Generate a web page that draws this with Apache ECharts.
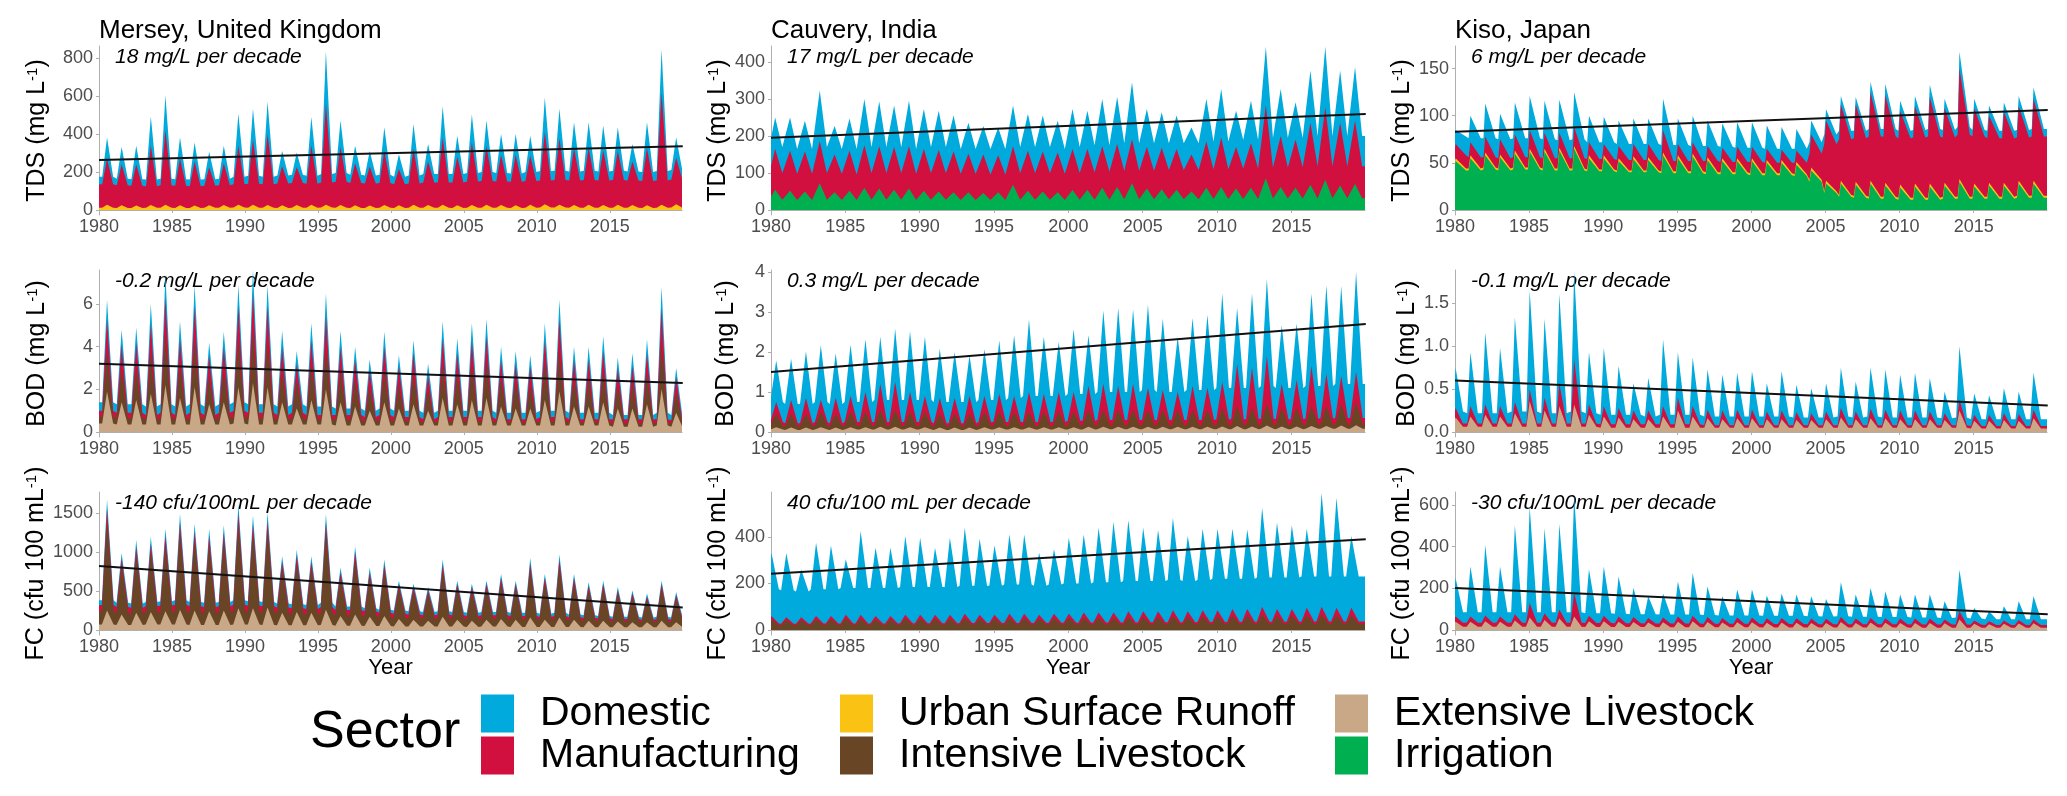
<!DOCTYPE html>
<html>
<head>
<meta charset="utf-8">
<title>Sector contributions to river water quality</title>
<script src="https://cdn.jsdelivr.net/npm/echarts@6.0.0/dist/echarts.min.js"></script>
<style>
  html, body { margin: 0; padding: 0; background: #fff; }
  #chart { width: 2067px; height: 796px; }
</style>
</head>
<body>
<div id="chart"></div>
<script>
// years of the monthly record (one seasonal peak + trough read per year)
const years = [1980, 1981, 1982, 1983, 1984, 1985, 1986, 1987, 1988, 1989,
  1990, 1991, 1992, 1993, 1994, 1995, 1996, 1997, 1998, 1999,
  2000, 2001, 2002, 2003, 2004, 2005, 2006, 2007, 2008, 2009,
  2010, 2011, 2012, 2013, 2014, 2015, 2016, 2017, 2018, 2019];
const xTicks = [1980, 1985, 1990, 1995, 2000, 2005, 2010, 2015];
const rivers = ['Mersey, United Kingdom', 'Cauvery, India', 'Kiso, Japan'];

// values are the upper edge of each stacked sector band (Lo = seasonal trough, Pk = annual peak)

// Mersey TDS
const merseyTdsTicks = [0, 200, 400, 600, 800];
const merseyTdsTrend = [263, 336];
const merseyTdsDomPk = [382,332,338,492,604,382,355,306,338,507, 533,569,311,302,489,836,471,338,311,436, 293,453,347,546,391,503,471,400,400,391, 592,533,462,462,444,436,347,462,845,382];
const merseyTdsDomLo = [175,165,162,160,165,162,160,162,165,175, 180,175,182,186,180,190,195,186,182,186, 175,182,190,190,190,195,200,195,192,200, 205,207,202,207,202,207,202,200,205,210];
const merseyTdsManPk = [270,240,240,340,420,270,255,225,245,340, 370,400,230,225,340,560,330,245,228,310, 215,320,255,380,280,355,335,290,290,285, 410,375,325,325,315,310,255,325,620,275];
const merseyTdsManLo = [135,130,128,125,130,128,125,128,130,135, 138,135,140,142,138,145,148,142,140,142, 135,140,145,145,145,150,152,150,148,152, 155,158,155,158,155,158,155,152,155,160];
const merseyTdsUrbPk = [28,25,24,26,27,25,24,25,26,28, 27,26,25,26,27,28,26,25,24,26, 25,27,26,27,25,26,27,26,25,27, 30,28,26,27,26,27,26,25,28,30];
const merseyTdsUrbLo = [12,11,11,12,12,11,11,12,12,13, 12,12,11,12,12,13,12,11,11,12, 11,12,12,12,11,12,12,12,11,12, 13,13,12,12,12,12,12,11,12,13];

// Mersey BOD
const merseyBodTicks = [0, 2, 4, 6];
const merseyBodTrend = [3.2, 2.3];
const merseyBodDomPk = [6.2,4.8,4.9,6.0,7.4,5.2,6.9,4.2,4.7,6.9, 7.6,6.9,4.75,3.8,5.1,6.5,4.75,4.0,3.4,4.7, 3.6,4.3,3.2,5.2,4.4,5.1,5.3,4.0,3.8,3.6, 5.1,6.2,4.0,4.0,4.5,3.5,3.7,4.35,6.8,3.0];
const merseyBodDomLo = [1.4,1.3,1.3,1.2,1.3,1.2,1.3,1.2,1.3,1.4, 1.3,1.3,1.2,1.3,1.2,1.2,1.1,1.1,1.0,1.1, 1.0,1.0,0.9,1.0,1.0,1.0,1.0,0.9,0.9,0.9, 1.0,1.0,0.9,0.9,0.9,0.8,0.8,0.8,0.9,0.8];
const merseyBodManPk = [5.3,4.1,4.2,5.1,6.3,4.4,5.9,3.6,4.0,5.9, 6.5,5.9,4.0,3.2,4.3,5.5,4.0,3.4,2.9,4.0, 3.1,3.7,2.7,4.4,3.7,4.3,4.5,3.4,3.2,3.1, 4.3,5.3,3.4,3.4,3.8,3.0,3.1,3.7,5.8,2.6];
const merseyBodManLo = [1.0,0.9,0.9,0.8,0.9,0.8,0.9,0.8,0.9,1.0, 0.9,0.9,0.8,0.9,0.8,0.8,0.8,0.8,0.7,0.8, 0.7,0.7,0.6,0.7,0.7,0.7,0.7,0.6,0.6,0.6, 0.7,0.7,0.6,0.6,0.6,0.6,0.6,0.6,0.6,0.55];
const merseyBodIntPk = [3.8,3.0,3.0,3.7,4.6,3.2,4.3,2.6,2.9,4.3, 4.7,4.3,2.9,2.4,3.2,4.0,2.9,2.5,2.1,2.9, 2.2,2.7,2.0,3.2,2.7,3.2,3.3,2.5,2.4,2.2, 3.2,3.8,2.5,2.5,2.8,2.2,2.3,2.7,4.2,1.9];
const merseyBodIntLo = [0.7,0.65,0.65,0.6,0.65,0.6,0.65,0.6,0.65,0.7, 0.65,0.65,0.6,0.65,0.6,0.6,0.6,0.55,0.5,0.55, 0.5,0.5,0.45,0.5,0.5,0.5,0.5,0.45,0.45,0.45, 0.5,0.5,0.45,0.45,0.45,0.4,0.4,0.4,0.45,0.4];
const merseyBodExtPk = [1.9,1.4,1.5,1.8,2.2,1.6,2.1,1.3,1.4,2.1, 2.3,2.1,1.4,1.1,1.5,2.0,1.4,1.2,1.0,1.4, 1.1,1.3,1.0,1.6,1.3,1.5,1.6,1.2,1.1,1.1, 1.5,1.9,1.2,1.2,1.4,1.1,1.1,1.3,2.0,0.9];
const merseyBodExtLo = [0.4,0.35,0.35,0.35,0.35,0.35,0.35,0.35,0.35,0.4, 0.35,0.35,0.35,0.35,0.35,0.35,0.3,0.3,0.3,0.3, 0.3,0.3,0.3,0.3,0.3,0.3,0.3,0.3,0.3,0.3, 0.3,0.3,0.3,0.3,0.3,0.25,0.25,0.25,0.3,0.25];

// Mersey FC
const merseyFcTicks = [0, 500, 1000, 1500];
const merseyFcTrend = [820, 290];
const merseyFcDomPk = [1675,988,1154,1196,1300,1488,1363,1300,1342,1613, 1467,1508,946,1029,946,1488,800,1071,800,904, 633,592,550,904,633,592,633,717,633,925, 717,967,717,613,633,550,508,467,633,488];
const merseyFcDomLo = [380,350,340,360,370,380,360,350,360,380, 370,360,340,330,320,350,300,300,280,260, 250,240,230,240,230,220,230,230,220,220, 210,220,200,190,180,170,170,160,170,160];
const merseyFcManPk = [1560,920,1070,1110,1210,1380,1270,1210,1250,1500, 1360,1400,880,960,880,1380,740,1000,740,840, 590,550,510,840,590,550,590,670,590,860, 670,900,670,570,590,510,470,430,590,450];
const merseyFcManLo = [320,295,285,305,315,325,305,295,305,325, 315,305,290,280,270,295,255,255,240,220, 210,200,190,200,190,180,190,190,180,180, 170,180,165,155,150,140,140,130,140,130];
const merseyFcIntPk = [1420,840,980,1020,1100,1260,1160,1100,1140,1370, 1250,1280,800,870,800,1260,680,910,680,770, 540,500,470,770,540,500,540,610,540,790, 610,820,610,520,540,470,430,400,540,410];
const merseyFcIntLo = [240,220,215,230,235,245,230,220,230,245, 235,230,215,210,200,225,190,190,175,165, 155,150,145,150,145,140,145,145,140,140, 135,140,125,120,115,110,110,105,110,105];
const merseyFcExtPk = [250,200,220,230,240,260,250,240,250,280, 280,290,220,230,220,260,180,200,170,180, 140,130,120,170,130,120,130,140,130,160, 130,160,130,120,120,110,100,100,120,100];
const merseyFcExtLo = [70,65,65,70,70,70,65,65,65,70, 70,65,60,60,60,65,55,55,50,50, 45,45,45,45,45,40,45,45,40,40, 40,40,40,35,35,35,35,35,35,35];

// Cauvery TDS
const cauveryTdsTicks = [0, 100, 200, 300, 400];
const cauveryTdsTrend = [195, 259];
const cauveryTdsDomPk = [250,250,241,323,227,247,300,293,282,295, 273,268,255,236,227,223,282,259,255,241, 273,268,300,305,345,273,264,255,223,300, 327,268,295,441,327,291,377,441,377,386];
const cauveryTdsDomLo = [170,165,165,170,165,165,170,170,170,165, 170,170,165,165,165,165,170,170,170,165, 170,175,175,180,180,180,180,180,180,185, 185,190,190,195,195,195,200,200,200,200];
const cauveryTdsManPk = [165,160,158,186,150,160,175,172,170,172, 165,162,158,152,150,148,172,160,158,155, 165,165,172,178,191,170,168,165,150,185, 195,170,180,282,200,190,235,277,236,241];
const cauveryTdsManLo = [100,98,98,100,98,96,100,100,100,98, 100,100,98,98,96,96,100,100,100,98, 100,102,104,106,106,106,108,108,108,110, 110,112,112,115,115,116,118,118,118,118];
const cauveryTdsIrrPk = [55,52,50,72,48,52,60,58,55,58, 52,50,48,48,46,48,68,52,50,48, 54,55,60,62,72,58,56,55,50,60, 62,58,60,86,62,60,68,82,66,70];
const cauveryTdsIrrLo = [28,27,27,28,27,27,28,28,28,27, 28,28,27,27,27,27,28,28,28,27, 28,28,28,29,29,29,29,29,29,30, 30,30,30,31,31,31,31,32,32,32];

// Cauvery BOD
const cauveryBodTicks = [0, 1, 2, 3, 4];
const cauveryBodTrend = [1.5, 2.7];
const cauveryBodDomPk = [1.79,1.83,2.02,2.17,1.96,2.18,2.32,2.38,2.58,2.52, 2.38,2.08,2.0,1.92,2.07,2.29,2.42,2.81,2.38,2.25, 2.57,2.42,3.04,3.1,3.07,3.18,2.83,2.38,2.85,2.93, 3.46,3.1,3.46,3.83,2.67,2.71,3.46,3.67,3.65,4.0];
const cauveryBodDomLo = [0.75,0.7,0.7,0.75,0.7,0.75,0.75,0.8,0.8,0.8, 0.8,0.75,0.75,0.75,0.8,0.8,0.85,0.9,0.9,0.9, 0.95,0.95,1.0,1.0,1.0,1.05,1.0,1.0,1.05,1.05, 1.1,1.1,1.1,1.15,1.1,1.1,1.15,1.15,1.2,1.2];
const cauveryBodManPk = [0.75,0.8,0.85,0.8,0.85,0.9,1.0,1.2,1.25,1.0, 0.9,0.85,0.85,0.9,0.9,0.95,0.9,1.0,0.95,1.0, 1.0,1.15,1.2,1.15,1.2,1.1,1.05,1.0,1.15,1.1, 1.25,1.7,1.6,1.9,1.2,1.3,1.65,1.45,1.4,1.5];
const cauveryBodManLo = [0.25,0.22,0.22,0.25,0.22,0.25,0.25,0.25,0.25,0.25, 0.25,0.22,0.22,0.22,0.25,0.25,0.25,0.25,0.25,0.25, 0.28,0.28,0.3,0.3,0.3,0.3,0.3,0.3,0.3,0.3, 0.32,0.32,0.32,0.34,0.32,0.32,0.34,0.34,0.35,0.35];
const cauveryBodIntPk = [0.45,0.45,0.45,0.5,0.45,0.5,0.5,0.55,0.55,0.5, 0.5,0.45,0.45,0.45,0.5,0.5,0.5,0.5,0.5,0.5, 0.5,0.55,0.55,0.55,0.55,0.55,0.55,0.55,0.55,0.55, 0.6,0.65,0.6,0.7,0.6,0.6,0.65,0.65,0.7,0.75];
const cauveryBodIntLo = [0.15,0.14,0.14,0.15,0.14,0.15,0.15,0.15,0.15,0.15, 0.15,0.14,0.14,0.14,0.15,0.15,0.15,0.15,0.15,0.15, 0.16,0.16,0.16,0.16,0.16,0.16,0.16,0.16,0.16,0.16, 0.17,0.17,0.17,0.18,0.17,0.17,0.18,0.18,0.18,0.18];
const cauveryBodExtPk = [0.12,0.11,0.11,0.12,0.11,0.12,0.12,0.13,0.13,0.12, 0.12,0.11,0.11,0.11,0.12,0.12,0.12,0.12,0.12,0.12, 0.12,0.13,0.13,0.13,0.13,0.13,0.13,0.13,0.13,0.13, 0.14,0.15,0.14,0.16,0.14,0.14,0.15,0.15,0.16,0.17];
const cauveryBodExtLo = [0.06,0.05,0.05,0.06,0.05,0.06,0.06,0.06,0.06,0.06, 0.06,0.05,0.05,0.05,0.06,0.06,0.06,0.06,0.06,0.06, 0.06,0.06,0.07,0.07,0.07,0.07,0.07,0.07,0.07,0.07, 0.07,0.07,0.07,0.08,0.07,0.07,0.08,0.08,0.08,0.08];

// Cauvery FC
const cauveryFcTicks = [0, 200, 400];
const cauveryFcTrend = [241, 389];
const cauveryFcDomPk = [331,329,260,374,363,303,424,353,353,403, 396,353,396,439,391,363,410,410,331,346, 396,410,439,463,471,439,429,481,403,434, 434,434,431,524,460,449,434,588,567,403];
const cauveryFcDomLo = [175,170,165,175,175,180,180,180,180,185, 185,185,185,190,190,190,195,195,190,195, 200,200,205,205,210,210,210,215,210,215, 220,220,220,225,225,225,230,230,230,230];
const cauveryFcManPk = [60,55,55,60,60,65,65,60,60,65, 65,65,65,70,65,65,70,70,65,70, 70,75,75,75,80,80,80,85,80,85, 85,90,90,100,90,90,95,100,95,95];
const cauveryFcManLo = [28,27,27,28,28,28,28,28,28,29, 29,29,29,30,30,30,30,30,30,31, 31,31,32,32,32,33,33,33,33,34, 34,34,35,35,35,35,36,36,36,36];
const cauveryFcIntPk = [45,42,42,45,45,48,48,45,45,48, 48,48,48,50,48,48,50,50,48,50, 50,52,52,52,55,55,55,58,55,58, 58,60,60,65,60,60,62,65,62,62];
const cauveryFcIntLo = [20,19,19,20,20,20,20,20,20,21, 21,21,21,22,22,22,22,22,22,22, 23,23,23,23,23,24,24,24,24,24, 25,25,25,25,25,25,26,26,26,26];

// Kiso TDS
const kisoTdsTicks = [0, 50, 100, 150];
const kisoTdsTrend = [83, 106];
const kisoTdsDomPk = [85,100,113,102,114,121,116,117,125,100, 99,95,97,97,118,97,100,95,92,93, 93,90,88,86,95,107,121,120,136,134, 116,121,133,118,168,118,111,114,121,130];
const kisoTdsDomLo = [78,76,76,75,76,76,75,74,75,72, 72,70,70,70,69,69,68,68,67,66, 66,65,65,65,72,80,84,84,86,86, 84,85,86,85,88,85,84,84,85,86];
const kisoTdsManPk = [70,72,78,75,80,85,82,82,88,72, 70,68,70,70,85,70,72,68,66,67, 67,65,64,63,80,95,112,112,125,122, 105,110,120,108,150,108,100,104,110,118];
const kisoTdsManLo = [58,56,56,55,56,56,55,55,55,54, 54,53,53,53,52,52,52,52,51,51, 51,50,50,50,60,70,75,76,78,78, 76,77,78,77,80,78,76,76,77,78];
const kisoTdsUrbPk = [55,58,61,59,63,65,65,66,68,58, 58,55,57,56,61,58,60,56,55,55, 55,53,53,51,45,31,31,30,31,29, 27,28,28,29,33,28,29,29,31,31];
const kisoTdsUrbLo = [44,44,45,44,45,45,44,44,44,43, 43,42,42,42,41,41,41,40,40,40, 39,39,39,38,32,20,16,15,14,14, 13,13,13,14,14,14,14,14,15,15];
const kisoTdsIrrPk = [52,55,58,56,60,62,62,63,65,55, 55,52,54,53,58,55,57,53,52,52, 52,50,50,48,42,28,28,27,28,26, 24,25,25,26,30,25,26,26,28,28];
const kisoTdsIrrLo = [42,42,43,42,43,43,42,42,42,41, 41,40,40,40,39,39,39,38,38,38, 37,37,37,36,30,18,14,13,12,12, 11,11,11,12,12,12,12,12,13,13];

// Kiso BOD
const kisoBodTicks = [0, 0.5, 1, 1.5];
const kisoBodTrend = [0.60, 0.31];
const kisoBodDomPk = [0.75,0.93,1.16,0.98,1.34,1.65,1.32,1.61,1.87,0.93, 0.98,0.77,0.57,0.63,1.08,0.93,0.87,0.73,0.67,0.69, 0.71,0.57,0.71,0.55,0.51,0.57,0.75,0.59,0.75,0.73, 0.67,0.69,0.63,0.47,1.0,0.45,0.43,0.51,0.47,0.69];
const kisoBodDomLo = [0.24,0.22,0.22,0.22,0.24,0.24,0.22,0.22,0.24,0.22, 0.2,0.2,0.2,0.18,0.2,0.2,0.2,0.18,0.18,0.18, 0.18,0.18,0.18,0.17,0.17,0.17,0.18,0.17,0.18,0.17, 0.17,0.17,0.17,0.16,0.17,0.15,0.15,0.15,0.15,0.15];
const kisoBodManPk = [0.28,0.3,0.32,0.3,0.35,0.5,0.4,0.57,0.85,0.32, 0.3,0.28,0.25,0.25,0.3,0.4,0.3,0.26,0.25,0.26, 0.26,0.24,0.25,0.23,0.22,0.24,0.28,0.24,0.27,0.26, 0.25,0.25,0.24,0.22,0.38,0.2,0.2,0.22,0.21,0.26];
const kisoBodManLo = [0.1,0.1,0.1,0.1,0.1,0.1,0.1,0.1,0.1,0.1, 0.09,0.09,0.09,0.09,0.09,0.09,0.09,0.08,0.08,0.08, 0.08,0.08,0.08,0.08,0.08,0.08,0.08,0.08,0.08,0.08, 0.08,0.08,0.08,0.08,0.08,0.07,0.07,0.07,0.07,0.07];
const kisoBodExtPk = [0.17,0.18,0.2,0.18,0.22,0.36,0.25,0.3,0.32,0.2, 0.18,0.17,0.15,0.15,0.18,0.25,0.18,0.16,0.15,0.16, 0.16,0.15,0.15,0.14,0.14,0.15,0.17,0.15,0.16,0.16, 0.15,0.15,0.15,0.14,0.25,0.13,0.13,0.14,0.13,0.16];
const kisoBodExtLo = [0.06,0.06,0.06,0.06,0.06,0.06,0.06,0.06,0.06,0.06, 0.05,0.05,0.05,0.05,0.05,0.05,0.05,0.05,0.05,0.05, 0.05,0.05,0.05,0.05,0.05,0.05,0.05,0.05,0.05,0.05, 0.05,0.05,0.05,0.05,0.05,0.04,0.04,0.04,0.04,0.04];

// Kiso FC
const kisoFcTicks = [0, 200, 400, 600];
const kisoFcTrend = [202, 75];
const kisoFcDomPk = [249,305,408,305,503,590,487,508,646,292, 305,257,202,162,175,233,273,209,162,194, 194,165,175,170,162,149,229,170,202,186, 170,170,170,138,289,106,90,114,138,162];
const kisoFcDomLo = [85,85,85,85,85,85,85,85,85,80, 80,78,76,75,74,74,74,72,70,70, 70,68,68,68,66,65,66,64,64,62, 62,60,60,58,60,55,52,52,52,52];
const kisoFcManPk = [65,65,70,65,75,130,80,98,178,68, 68,65,62,58,60,65,68,62,58,60, 60,56,58,56,55,54,62,55,58,56, 55,55,55,50,90,45,42,45,48,50];
const kisoFcManLo = [35,35,35,35,35,35,35,35,35,33, 33,32,32,31,31,31,31,30,30,30, 30,29,29,29,28,28,28,27,27,27, 27,26,26,26,26,25,24,24,24,24];
const kisoFcExtPk = [40,40,42,40,45,60,48,55,65,42, 42,40,38,36,37,40,42,38,36,37, 37,35,36,35,34,34,38,34,36,35, 34,34,34,32,50,30,28,30,31,32];
const kisoFcExtLo = [15,15,15,15,15,15,15,15,15,14, 14,14,14,14,13,13,13,13,13,13, 13,12,12,12,12,12,12,12,12,12, 12,11,11,11,11,11,11,11,11,11];

// ---- look & layout ----
const FONT = '"Liberation Sans", Arial, Helvetica, sans-serif';
const sectorColor = {
  'Domestic': '#00AADC',
  'Manufacturing': '#D21040',
  'Urban Surface Runoff': '#FAC314',
  'Intensive Livestock': '#684524',
  'Extensive Livestock': '#C8A886',
  'Irrigation': '#00B050'
};
const colLeft = [99, 771, 1455];
const colWidth = [583, 594, 592];
const rowTop = [46, 270, 492];
const rowZero = [210, 432, 630];
const pad = 5;              // gap between zero line and axis line
const nameGap = [49, 32, 32];
const tdsName = 'TDS (mg L{s|-1})';
const bodName = 'BOD (mg L{s|-1})';
const fcName = 'FC (cfu 100 mL{s|-1})';

// peakAt: where in the year the seasonal peak sits; rise/fall: hump width before/after it
const panels = [
  { col: 0, row: 0, max: 863, ticks: merseyTdsTicks, trend: merseyTdsTrend, yName: tdsName, note: '18 mg/L per decade',
    peakAt: 0.55, rise: 0.33, fall: 0.42,
    bands: [['Domestic', merseyTdsDomLo, merseyTdsDomPk], ['Manufacturing', merseyTdsManLo, merseyTdsManPk],
            ['Urban Surface Runoff', merseyTdsUrbLo, merseyTdsUrbPk]] },
  { col: 0, row: 1, max: 7.6, ticks: merseyBodTicks, trend: merseyBodTrend, yName: bodName, note: '-0.2 mg/L per decade',
    peakAt: 0.55, rise: 0.33, fall: 0.42,
    bands: [['Domestic', merseyBodDomLo, merseyBodDomPk], ['Manufacturing', merseyBodManLo, merseyBodManPk],
            ['Intensive Livestock', merseyBodIntLo, merseyBodIntPk], ['Extensive Livestock', merseyBodExtLo, merseyBodExtPk]] },
  { col: 0, row: 2, max: 1770, ticks: merseyFcTicks, trend: merseyFcTrend, yName: fcName, note: '-140 cfu/100mL per decade',
    peakAt: 0.55, rise: 0.35, fall: 0.45,
    bands: [['Domestic', merseyFcDomLo, merseyFcDomPk], ['Manufacturing', merseyFcManLo, merseyFcManPk],
            ['Intensive Livestock', merseyFcIntLo, merseyFcIntPk], ['Extensive Livestock', merseyFcExtLo, merseyFcExtPk]] },
  { col: 1, row: 0, max: 443, ticks: cauveryTdsTicks, trend: cauveryTdsTrend, yName: tdsName, note: '17 mg/L per decade',
    peakAt: 0.28, rise: 0.4, fall: 0.48,
    bands: [['Domestic', cauveryTdsDomLo, cauveryTdsDomPk], ['Manufacturing', cauveryTdsManLo, cauveryTdsManPk],
            ['Irrigation', cauveryTdsIrrLo, cauveryTdsIrrPk]] },
  { col: 1, row: 1, max: 4.05, ticks: cauveryBodTicks, trend: cauveryBodTrend, yName: bodName, note: '0.3 mg/L per decade',
    peakAt: 0.35, rise: 0.4, fall: 0.45,
    bands: [['Domestic', cauveryBodDomLo, cauveryBodDomPk], ['Manufacturing', cauveryBodManLo, cauveryBodManPk],
            ['Intensive Livestock', cauveryBodIntLo, cauveryBodIntPk], ['Extensive Livestock', cauveryBodExtLo, cauveryBodExtPk]] },
  { col: 1, row: 2, max: 592, ticks: cauveryFcTicks, trend: cauveryFcTrend, yName: fcName, note: '40 cfu/100 mL per decade',
    peakAt: 0.03, rise: 0.35, fall: 0.5,
    bands: [['Domestic', cauveryFcDomLo, cauveryFcDomPk], ['Manufacturing', cauveryFcManLo, cauveryFcManPk],
            ['Intensive Livestock', cauveryFcIntLo, cauveryFcIntPk]] },
  { col: 2, row: 0, max: 174, ticks: kisoTdsTicks, trend: kisoTdsTrend, yName: tdsName, note: '6 mg/L per decade',
    peakAt: 0.04, rise: 0.12, fall: 0.7,
    bands: [['Domestic', kisoTdsDomLo, kisoTdsDomPk], ['Manufacturing', kisoTdsManLo, kisoTdsManPk],
            ['Urban Surface Runoff', kisoTdsUrbLo, kisoTdsUrbPk], ['Irrigation', kisoTdsIrrLo, kisoTdsIrrPk]] },
  { col: 2, row: 1, max: 1.89, ticks: kisoBodTicks, trend: kisoBodTrend, yName: bodName, note: '-0.1 mg/L per decade',
    digits: 1, peakAt: 0.04, rise: 0.22, fall: 0.5,
    bands: [['Domestic', kisoBodDomLo, kisoBodDomPk], ['Manufacturing', kisoBodManLo, kisoBodManPk],
            ['Extensive Livestock', kisoBodExtLo, kisoBodExtPk]] },
  { col: 2, row: 2, max: 662, ticks: kisoFcTicks, trend: kisoFcTrend, yName: fcName, note: '-30 cfu/100mL per decade',
    peakAt: 0.04, rise: 0.25, fall: 0.5,
    bands: [['Domestic', kisoFcDomLo, kisoFcDomPk], ['Manufacturing', kisoFcManLo, kisoFcManPk],
            ['Extensive Livestock', kisoFcExtLo, kisoFcExtPk]] }
];

// one seasonal hump per year: trough -> peak -> trough
function seasonal(lo, pk, p) {
  const pts = [];
  years.forEach((yr, i) => {
    pts.push([yr + p.peakAt - p.rise, lo[i]], [yr + p.peakAt, pk[i]], [yr + p.peakAt + p.fall, lo[i]]);
  });
  if (pts[0][0] > years[0]) pts.unshift([years[0], lo[0]]);
  const last = lo.length - 1;
  if (pts[pts.length - 1][0] < years[last] + 1) pts.push([years[last] + 1, lo[last]]);
  return pts;
}

const axisGrey = '#AFAFAF';
const labelGrey = '#4D4D4D';
const grid = [], xAxis = [], yAxis = [], series = [], graphic = [];

panels.forEach((p, k) => {
  const top = rowTop[p.row];
  const h = rowZero[p.row] - top;
  grid.push({ left: colLeft[p.col], top: top, width: colWidth[p.col], height: h + pad });
  xAxis.push({
    type: 'value', gridIndex: k, min: 1980, max: 2019.95, position: 'bottom',
    axisLine: { show: true, lineStyle: { color: axisGrey, width: 1 } },
    axisTick: { show: true, length: 3, customValues: xTicks, lineStyle: { color: axisGrey } },
    axisLabel: { customValues: xTicks, margin: 3, fontSize: 18, color: labelGrey, fontFamily: FONT,
      formatter: v => (v % 5 === 0 ? String(v) : '') },
    splitLine: { show: false }
  });
  yAxis.push({
    type: 'value', gridIndex: k, min: -p.max * pad / h, max: p.max,
    name: p.yName, nameLocation: 'middle', nameGap: nameGap[p.col],
    nameTextStyle: { fontFamily: FONT, fontSize: 25, color: '#000',
      rich: { s: { fontFamily: FONT, fontSize: 15, color: '#000', verticalAlign: 'top', padding: [0, 0, 6, 0] } } },
    axisLine: { show: true, lineStyle: { color: axisGrey, width: 1 } },
    axisTick: { show: true, length: 3, customValues: p.ticks, lineStyle: { color: axisGrey } },
    axisLabel: { customValues: p.ticks, margin: 6, fontSize: 18, color: labelGrey, fontFamily: FONT,
      formatter: v => (p.digits ? v.toFixed(p.digits) : String(v)) },
    splitLine: { show: false }
  });
  p.bands.forEach(([name, lo, pk]) => {
    series.push({
      type: 'line', name: name, xAxisIndex: k, yAxisIndex: k,
      data: seasonal(lo, pk, p),
      color: sectorColor[name], itemStyle: { color: sectorColor[name] },
      showSymbol: false, symbol: 'none', silent: true, clip: true,
      lineStyle: { width: 0 },
      areaStyle: { color: sectorColor[name], opacity: 1 },
      z: 2
    });
  });
  series.push({
    type: 'line', name: 'trend', xAxisIndex: k, yAxisIndex: k,
    data: [[1980, p.trend[0]], [2020, p.trend[1]]],
    showSymbol: false, symbol: 'none', silent: true, clip: true,
    lineStyle: { color: '#111', width: 2 }, z: 5
  });
  graphic.push({
    type: 'text', x: colLeft[p.col] + 16, y: top + 11, silent: true,
    style: { text: p.note, fill: '#000', font: 'italic 21px ' + FONT,
      align: 'left', verticalAlign: 'middle', textAlign: 'left', textVerticalAlign: 'middle' }
  });
});

rivers.forEach((r, c) => {
  graphic.push({
    type: 'text', x: colLeft[c], y: 31, silent: true,
    style: { text: r, fill: '#000', font: '26px ' + FONT,
      align: 'left', verticalAlign: 'middle', textAlign: 'left', textVerticalAlign: 'middle' }
  });
  graphic.push({
    type: 'text', x: colLeft[c] + colWidth[c] / 2, y: 668, silent: true,
    style: { text: 'Year', fill: '#000', font: '22px ' + FONT,
      align: 'center', verticalAlign: 'middle', textAlign: 'center', textVerticalAlign: 'middle' }
  });
});
graphic.push({
  type: 'text', x: 310, y: 733, silent: true,
  style: { text: 'Sector', fill: '#000', font: '52px ' + FONT,
    align: 'left', verticalAlign: 'middle', textAlign: 'left', textVerticalAlign: 'middle' }
});

const legendCols = [
  ['Domestic', 'Manufacturing'],
  ['Urban Surface Runoff', 'Intensive Livestock'],
  ['Extensive Livestock', 'Irrigation']
];
const legendLeft = [481, 840, 1335];

const option = {
  backgroundColor: '#ffffff',
  animation: false,
  textStyle: { fontFamily: FONT },
  grid: grid,
  xAxis: xAxis,
  yAxis: yAxis,
  series: series,
  graphic: graphic,
  legend: legendCols.map((names, i) => ({
    orient: 'vertical', left: legendLeft[i], top: 693, padding: 0,
    itemWidth: 33, itemHeight: 38, itemGap: 1, icon: 'rect', selectedMode: false,
    itemStyle: { borderWidth: 0 },
    data: names,
    textStyle: { fontFamily: FONT, fontSize: 41, lineHeight: 38, color: '#000', padding: [0, 0, 0, 21] }
  }))
};

const chart = echarts.init(document.getElementById('chart'));
chart.setOption(option);
</script>
</body>
</html>
